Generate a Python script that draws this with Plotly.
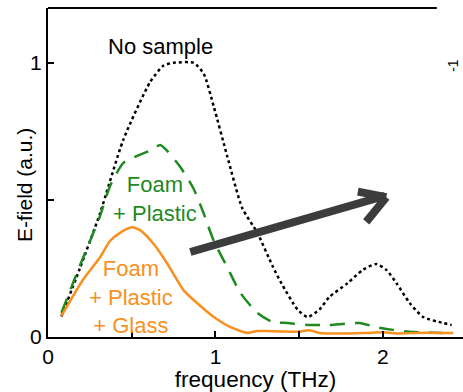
import plotly.graph_objects as go

# ---- data ----
freq_nosample = [0.08, 0.19, 0.31, 0.45, 0.61, 0.69, 0.75, 0.87, 0.93, 0.99, 1.07, 1.16, 1.25, 1.34,
                 1.39, 1.49, 1.55, 1.62, 1.68, 1.79, 1.88, 1.96, 2.02, 2.08, 2.16, 2.24, 2.36, 2.41]
field_nosample = [0.075, 0.25, 0.45, 0.72, 0.93, 0.99, 1.0, 1.0, 0.96, 0.84, 0.66, 0.47, 0.38, 0.26,
                  0.20, 0.10, 0.073, 0.10, 0.146, 0.197, 0.245, 0.266, 0.245, 0.197, 0.124, 0.073, 0.051, 0.044]

freq_foam_plastic = [0.08, 0.19, 0.31, 0.37, 0.45, 0.53, 0.61, 0.67, 0.71, 0.79, 0.87, 0.93, 0.99, 1.07,
                     1.15, 1.25, 1.34, 1.43, 1.55, 1.68, 1.86, 1.96, 2.06, 2.18, 2.36]
field_foam_plastic = [0.088, 0.26, 0.44, 0.55, 0.635, 0.66, 0.68, 0.70, 0.68, 0.62, 0.54, 0.45, 0.35, 0.255,
                      0.16, 0.088, 0.055, 0.051, 0.044, 0.044, 0.051, 0.036, 0.026, 0.018, 0.015]

freq_glass = [0.08, 0.21, 0.31, 0.37, 0.43, 0.50, 0.55, 0.63, 0.71, 0.81, 0.89, 0.99, 1.09, 1.19, 1.25,
              1.31, 1.40, 1.50, 1.56, 1.62, 1.75, 1.90, 2.00, 2.10, 2.20, 2.30, 2.42]
field_glass = [0.077, 0.21, 0.29, 0.35, 0.38, 0.40, 0.39, 0.34, 0.27, 0.17, 0.124, 0.073, 0.036, 0.015, 0.022,
               0.022, 0.020, 0.020, 0.025, 0.015, 0.013, 0.015, 0.017, 0.013, 0.015, 0.015, 0.015]

x_tickvals = [0, 0.5, 1, 1.5, 2]
x_ticktext = ["0", "", "1", "", "2"]
y_tickvals = [0, 0.5, 1]
y_ticktext = ["0", "", "1"]

FONT = "Arial, Liberation Sans, sans-serif"
GREEN = "#1f8a1f"
ORANGE = "#f7901e"

fig = go.Figure()
fig.add_trace(go.Scatter(x=freq_nosample, y=field_nosample, mode="lines",
                         line=dict(color="black", width=2.5, dash="dot", shape="spline", smoothing=0.6),
                         showlegend=False))
fig.add_trace(go.Scatter(x=freq_foam_plastic, y=field_foam_plastic, mode="lines",
                         line=dict(color=GREEN, width=2.5, dash="15px,10px", shape="spline", smoothing=0.6),
                         showlegend=False))
fig.add_trace(go.Scatter(x=freq_glass, y=field_glass, mode="lines",
                         line=dict(color=ORANGE, width=2.5, shape="spline", smoothing=0.6),
                         showlegend=False))

# arrow (decoration)
ARROW = "#3c3c3c"
fig.add_shape(type="line", xref="x", yref="y", x0=0.85, y0=0.31, x1=2.01, y1=0.515,
              line=dict(color=ARROW, width=8))
fig.add_shape(type="line", xref="x", yref="y", x0=1.85, y0=0.53, x1=2.02, y1=0.51,
              line=dict(color=ARROW, width=8))
fig.add_shape(type="line", xref="x", yref="y", x0=1.90, y0=0.42, x1=2.02, y1=0.51,
              line=dict(color=ARROW, width=8))

# top frame line (partial)
fig.add_shape(type="line", xref="paper", yref="paper", x0=0, y0=1, x1=0.937, y1=1,
              line=dict(color="black", width=2))

fig.add_annotation(x=0.67, y=1.058, xref="x", yref="y", text="No sample", showarrow=False,
                   font=dict(family=FONT, size=22, color="black"))
fig.add_annotation(x=0.64, y=0.505, xref="x", yref="y", text="Foam<br>+ Plastic", showarrow=False,
                   font=dict(family=FONT, size=22, color=GREEN), align="center")
fig.add_annotation(x=0.495, y=0.146, xref="x", yref="y", text="Foam<br>+ Plastic<br>+ Glass",
                   showarrow=False, font=dict(family=FONT, size=22, color=ORANGE), align="center")

# y-axis title
fig.add_annotation(x=-0.0578, y=0.462, xref="paper", yref="paper", text="E-field (a.u.)",
                   textangle=-90, showarrow=False, xanchor="center", yanchor="middle",
                   font=dict(family=FONT, size=21, color="black"))

# fragment of the neighbouring panel's axis label
fig.add_annotation(x=1.0, y=0.85, xref="paper", yref="paper", text="-1",
                   textangle=-90, showarrow=False, xanchor="right",
                   font=dict(family=FONT, size=14, color="black"))

fig.update_layout(
    width=463, height=392,
    margin=dict(l=48, r=0, t=8, b=55),
    paper_bgcolor="white", plot_bgcolor="white",
    font=dict(family=FONT, size=21, color="black"),
    xaxis=dict(range=[0, 2.478], tickvals=x_tickvals, ticktext=x_ticktext, ticks="inside",
               ticklen=6, tickwidth=2, tickcolor="black", showline=True, linecolor="black",
               linewidth=2, showgrid=False, zeroline=False,
               title=dict(text="frequency (THz)", font=dict(size=22.5), standoff=2),
               tickfont=dict(size=21)),
    yaxis=dict(range=[0, 1.2], tickvals=y_tickvals, ticktext=y_ticktext, ticks="inside",
               ticklen=6, tickwidth=2, tickcolor="black", showline=True, linecolor="black",
               linewidth=2, showgrid=False, zeroline=False,
               tickfont=dict(size=21)),
)

fig.write_html("out.html")
